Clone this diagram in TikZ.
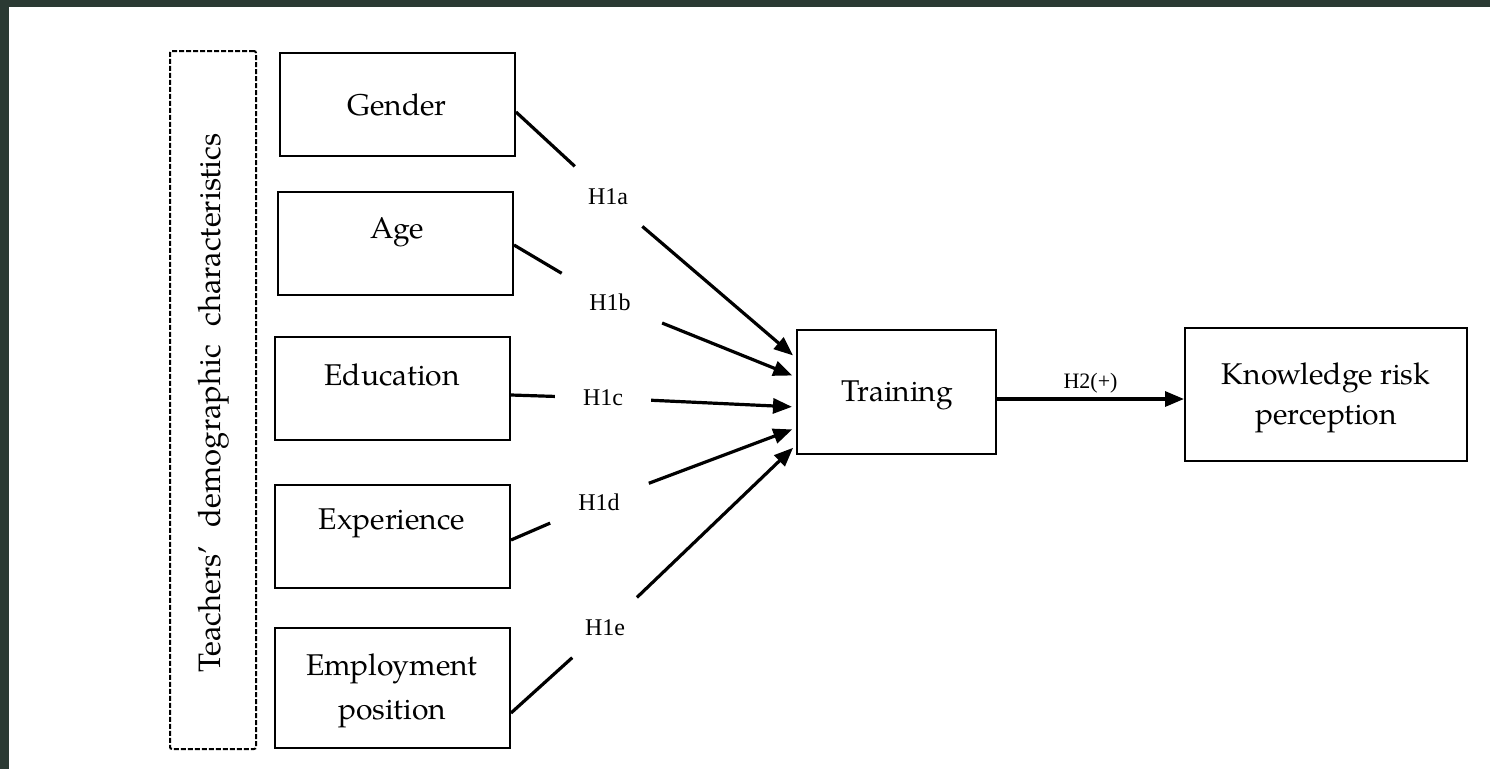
\documentclass[tikz,border=0pt]{standalone}
\usepackage{fontspec}
\setmainfont{TeX Gyre Pagella}
\newfontfamily\hfont{Liberation Serif}
\usetikzlibrary{arrows.meta,calc}
\definecolor{framecol}{RGB}{43,58,51}
\begin{document}
\begin{tikzpicture}[x=1pt,y=-1pt,
  box/.style={draw,line width=2pt,minimum width=235pt,minimum height=103pt,inner sep=0pt},
  txt/.style={font=\fontsize{30}{40}\selectfont,align=center,inner sep=0pt},
  hyp/.style={circle,inner sep=0pt,minimum size=96pt,font=\hfont\fontsize{24}{28}\selectfont},
  link/.style={line width=3.2pt},
  arr/.style={line width=3.2pt,-{Triangle[length=19pt,width=15pt]},shorten >=4pt}]
% background and frame
\fill[framecol] (0,0) rectangle (1490,769);
\fill[white] (9,7) rectangle (1490,769);
\useasboundingbox (0,0) rectangle (1490,769);

% dashed group box
\node[draw,dash pattern=on 5pt off 2pt,line width=2pt,rounded corners=2pt,
      minimum width=86pt,minimum height=698pt,inner sep=0pt] (group) at (213,400) {};
\node[txt,rotate=90,font=\fontsize{31}{40}\selectfont] (grouptxt) at (214,403) {Teachers’\hspace{0.6em}demographic\hspace{0.6em}characteristics};

% boxes
\node[box] (gender) at (397.5,104.5) {};
\node[txt] (gendert) at (397,105) {Gender};
\node[box] (age) at (395.5,243.5) {};
\node[txt] (aget) at (397,232) {Age};
\node[box] (edu) at (392.5,388.5) {};
\node[txt] (edut) at (392,375) {Education};
\node[box] (exp) at (392.5,536.5) {};
\node[txt] (expt) at (392,523) {Experience};
\node[box,minimum height=120pt] (emp) at (392.5,688) {};
\node[txt,font=\fontsize{30}{44}\selectfont] (empt) at (392,691) {Employment\\position};

\node[box,minimum width=199pt,minimum height=124pt] (training) at (896.5,392) {};
\node[txt] (trainingt) at (897,395) {Training};
\node[box,minimum width=282pt,minimum height=133pt] (know) at (1326,394.5) {};
\node[txt] (knowt) at (1326,398) {Knowledge risk\\perception};

% hypothesis labels
\node[hyp,minimum size=90pt] (h1a) at (608,197) {H1a};
\node[hyp,minimum size=112pt] (h1b) at (610,302) {H1b};
\node[hyp] (h1c) at (603,398) {H1c};
\node[hyp,minimum size=106pt] (h1d) at (599,502) {H1d};
\node[hyp,minimum size=88pt] (h1e) at (605,628) {H1e};

% connectors
\draw[link] ([yshift=-7.5pt]gender.east) -- (h1a);
\draw[arr] (h1a) -- ([yshift=34pt]training.west);
\draw[link] ([yshift=-1.5pt]age.east) -- (h1b);
\draw[arr] (h1b) -- ([yshift=15pt]training.west);
\draw[link] ([yshift=-6.5pt]edu.east) -- (h1c);
\draw[arr] (h1c) -- ([yshift=-15pt]training.west);
\draw[link] ([yshift=-3.5pt]exp.east) -- (h1d);
\draw[arr] (h1d) -- ([yshift=-36pt]training.west);
\draw[link] ([yshift=-25pt]emp.east) -- (h1e);
\draw[arr] (h1e) -- ([yshift=-53pt]training.west);

\coordinate (h2s) at ([yshift=-7pt]training.east);
\draw[line width=3.2pt,-{Triangle[length=19pt,width=15pt]}] (h2s) -- (h2s -| know.west)
  node[midway,above=1pt,font=\hfont\fontsize{22}{26}\selectfont] (h2) {H2(+)};
\end{tikzpicture}
\end{document}
